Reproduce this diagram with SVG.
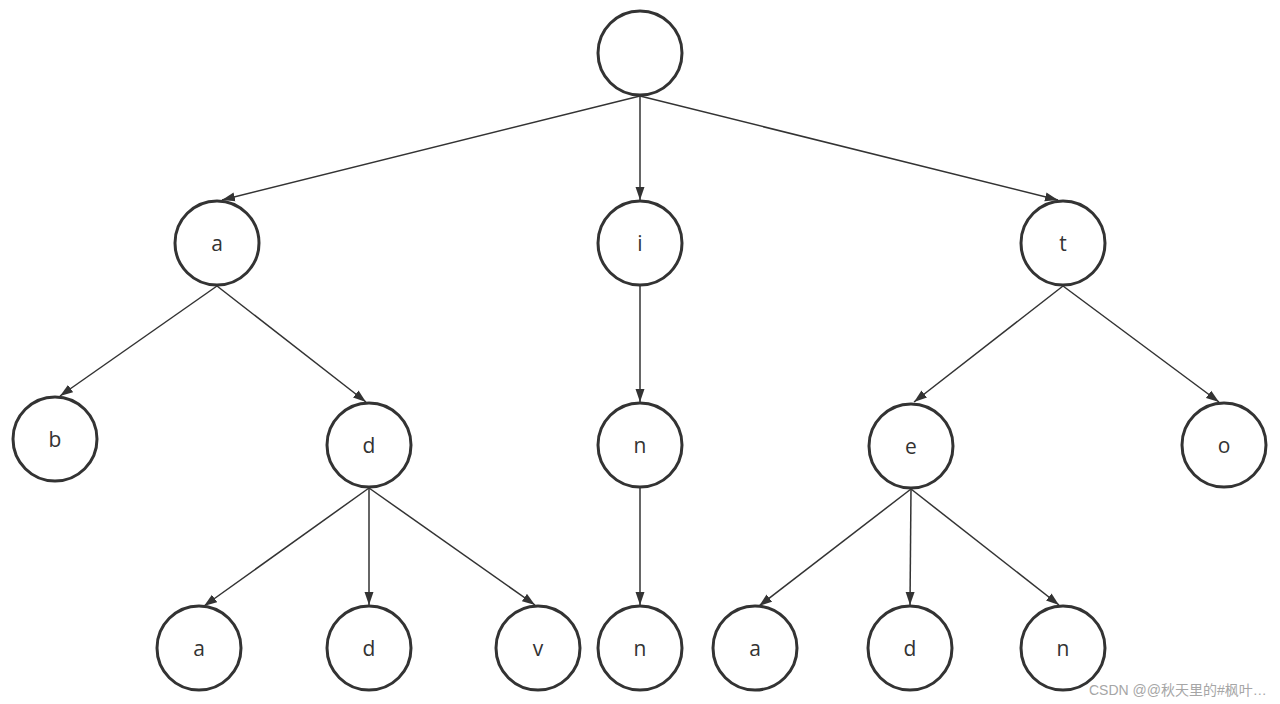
<svg xmlns="http://www.w3.org/2000/svg" width="1280" height="704" viewBox="0 0 1280 704">
<style>
.node circle{fill:#fff;stroke:#333;stroke-width:3}
.node text{font-family:"Open Sans","Liberation Sans",sans-serif;font-size:21px;fill:#333;text-anchor:middle;dominant-baseline:central}
.edges line{stroke:#333;stroke-width:1.5;marker-end:url(#arr)}
.wm{font-family:"Liberation Sans","Noto Sans CJK SC",sans-serif;font-size:14px;fill:#a6a6a6}
</style>
<defs>
<marker id="arr" markerUnits="userSpaceOnUse" markerWidth="14" markerHeight="10" refX="13" refY="5" orient="auto">
<path d="M0,0.5 L13,5 L0,9.5 z" fill="#333"/>
</marker>
</defs>
<rect width="1280" height="704" fill="#fff"/>
<g class="edges">
<line x1="640" y1="96" x2="222" y2="200"/>
<line x1="640" y1="96" x2="640" y2="200"/>
<line x1="640" y1="96" x2="1058" y2="200"/>
<line x1="217" y1="286" x2="60" y2="396"/>
<line x1="217" y1="286" x2="366" y2="402"/>
<line x1="640" y1="286" x2="640" y2="402"/>
<line x1="1063" y1="286" x2="914" y2="402"/>
<line x1="1063" y1="286" x2="1219" y2="402"/>
<line x1="369" y1="488" x2="204" y2="606"/>
<line x1="369" y1="488" x2="369" y2="605"/>
<line x1="369" y1="488" x2="535" y2="605"/>
<line x1="640" y1="488" x2="640" y2="605"/>
<line x1="911" y1="489" x2="759" y2="606"/>
<line x1="911" y1="489" x2="910" y2="605"/>
<line x1="911" y1="489" x2="1059" y2="605"/>
</g>
<g id="root" class="node"><circle cx="640" cy="53" r="42"/></g>
<g id="n-a" class="node"><circle cx="217" cy="243" r="42"/><text x="217" y="243">a</text></g>
<g id="n-i" class="node"><circle cx="640" cy="243" r="42"/><text x="640" y="243">i</text></g>
<g id="n-t" class="node"><circle cx="1063" cy="243" r="42"/><text x="1063" y="243">t</text></g>
<g id="n-ab" class="node"><circle cx="55" cy="439" r="42"/><text x="55" y="439">b</text></g>
<g id="n-ad" class="node"><circle cx="369" cy="445" r="42"/><text x="369" y="445">d</text></g>
<g id="n-in" class="node"><circle cx="640" cy="445" r="42"/><text x="640" y="445">n</text></g>
<g id="n-te" class="node"><circle cx="911" cy="446" r="42"/><text x="911" y="446">e</text></g>
<g id="n-to" class="node"><circle cx="1224" cy="445" r="42"/><text x="1224" y="445">o</text></g>
<g id="n-ada" class="node"><circle cx="199" cy="648" r="42"/><text x="199" y="648">a</text></g>
<g id="n-add" class="node"><circle cx="369" cy="648" r="42"/><text x="369" y="648">d</text></g>
<g id="n-adv" class="node"><circle cx="538" cy="648" r="42"/><text x="538" y="648">v</text></g>
<g id="n-inn" class="node"><circle cx="640" cy="648" r="42"/><text x="640" y="648">n</text></g>
<g id="n-tea" class="node"><circle cx="755" cy="648" r="42"/><text x="755" y="648">a</text></g>
<g id="n-ted" class="node"><circle cx="910" cy="648" r="42"/><text x="910" y="648">d</text></g>
<g id="n-ten" class="node"><circle cx="1063" cy="648" r="42"/><text x="1063" y="648">n</text></g>
<text class="wm" x="1089" y="695">CSDN @@秋天里的#枫叶…</text>
</svg>
